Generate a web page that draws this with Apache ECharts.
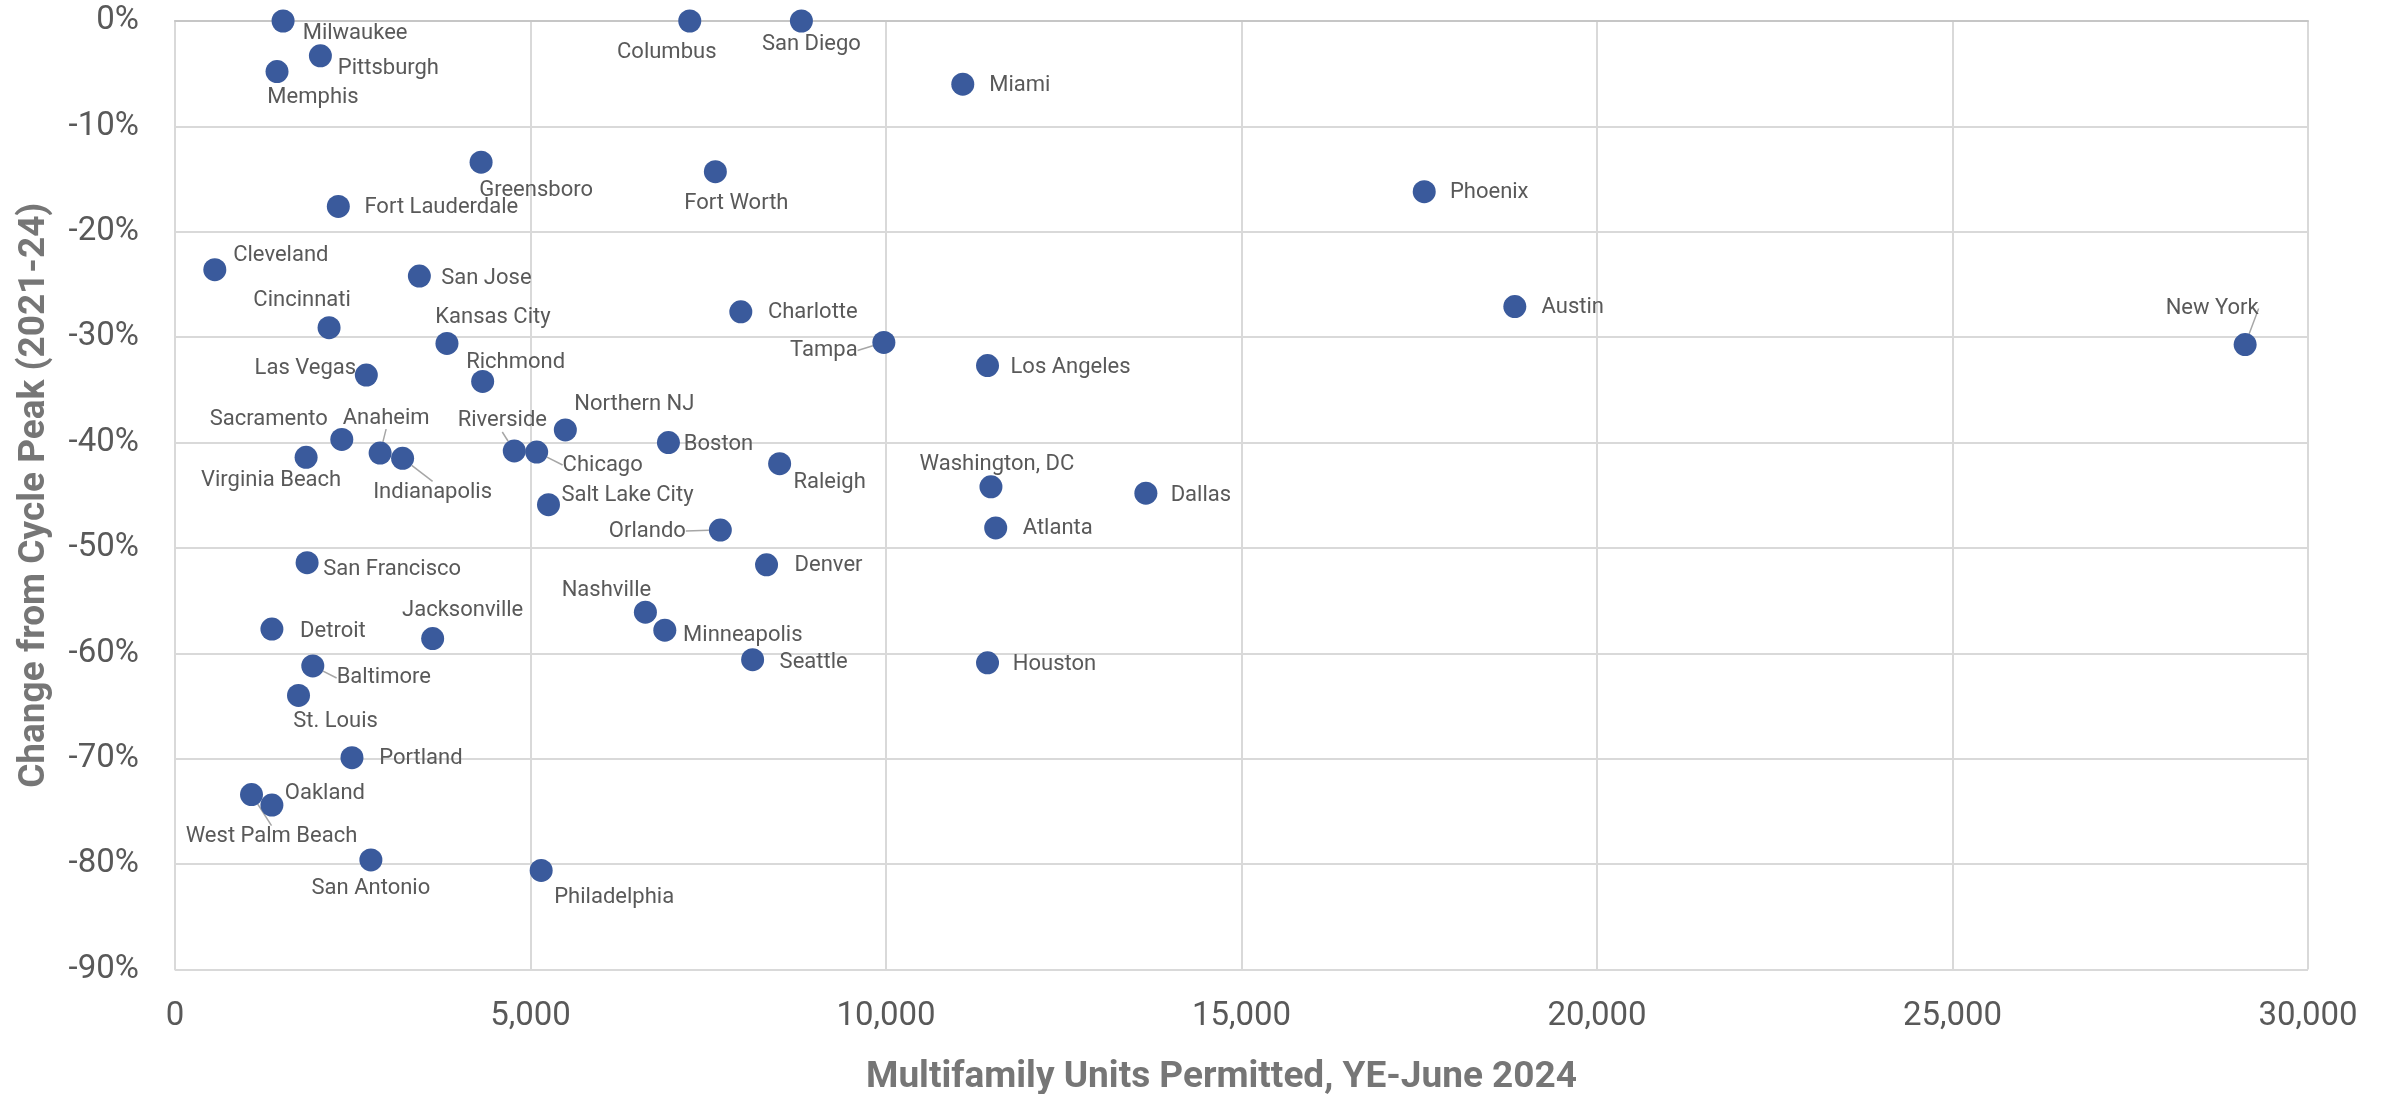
<!DOCTYPE html>
<html>
<head>
<meta charset="utf-8">
<script src="https://cdn.jsdelivr.net/npm/echarts@6/dist/echarts.min.js"></script>
<style>
  html, body { margin: 0; padding: 0; background: #fff; }
  #chart { width: 2389px; height: 1094px; }
</style>
</head>
<body>
<div id="chart"></div>
<script>
// Metro areas: multifamily permits (YE-June 2024) vs change from 2021-24 cycle peak
const cities = [
  'Milwaukee', 'Pittsburgh', 'Memphis', 'Columbus', 'San Diego', 'Miami',
  'Greensboro', 'Fort Worth', 'Fort Lauderdale', 'Phoenix', 'Cleveland', 'San Jose',
  'Charlotte', 'Austin', 'Cincinnati', 'Kansas City', 'Tampa', 'New York',
  'Las Vegas', 'Richmond', 'Los Angeles', 'Northern NJ', 'Sacramento', 'Anaheim',
  'Virginia Beach', 'Indianapolis', 'Riverside', 'Chicago', 'Boston', 'Raleigh',
  'Salt Lake City', 'Orlando', 'Washington, DC', 'Dallas', 'Atlanta', 'San Francisco',
  'Denver', 'Nashville', 'Detroit', 'Jacksonville', 'Minneapolis', 'Seattle',
  'Houston', 'Baltimore', 'St. Louis', 'Portland', 'West Palm Beach', 'Oakland',
  'San Antonio', 'Philadelphia'
];

const unitsPermitted = [
  1520, 2045, 1435, 7240, 8810, 11080,
  4305, 7600, 2297, 17570, 560, 3437,
  7958, 18844, 2167, 3825, 9970, 29116,
  2691, 4327, 11428, 5490, 2346, 2885,
  1844, 3201, 4772, 5087, 6940, 8504,
  5253, 7670, 11476, 13655, 11543, 1858,
  8320, 6616, 1363, 3624, 6889, 8124,
  11428, 1938, 1737, 2489, 1076, 1363,
  2755, 5150
];

const changeFromPeak = [
  0.0, -3.3, -4.8, 0.0, 0.0, -6.0,
  -13.4, -14.3, -17.6, -16.2, -23.6, -24.2,
  -27.6, -27.1, -29.1, -30.6, -30.5, -30.7,
  -33.6, -34.2, -32.7, -38.8, -39.7, -41.0,
  -41.4, -41.5, -40.8, -40.9, -40.0, -42.0,
  -45.9, -48.3, -44.2, -44.8, -48.1, -51.4,
  -51.6, -56.1, -57.7, -58.6, -57.8, -60.6,
  -60.9, -61.2, -64.0, -69.9, -73.4, -74.4,
  -79.6, -80.6
];

const xTicks = { min: 0, max: 30000, step: 5000 };
const yTicks = { min: -90, max: 0, step: 10 };

// Where each city's name sits relative to its dot (label centre, px)
const labelPlacement = {
  'Milwaukee': [72, 12], 'Pittsburgh': [68, 13], 'Memphis': [36, 26],
  'Columbus': [-23, 31], 'San Diego': [10, 23], 'Miami': [57, 1],
  'Greensboro': [55, 28], 'Fort Worth': [21, 32], 'Fort Lauderdale': [103, 1],
  'Phoenix': [65, 1], 'Cleveland': [66, -14], 'San Jose': [67, 2],
  'Charlotte': [72, 1], 'Austin': [58, 1], 'Cincinnati': [-27, -27],
  'Kansas City': [46, -26], 'Tampa': [-60, 8], 'New York': [-33, -36],
  'Las Vegas': [-61, -7], 'Richmond': [33, -19], 'Los Angeles': [83, 2],
  'Northern NJ': [69, -25], 'Sacramento': [-73, -20], 'Anaheim': [6, -35],
  'Virginia Beach': [-35, 23], 'Indianapolis': [30, 34], 'Riverside': [-12, -30],
  'Chicago': [66, 13], 'Boston': [50, 2], 'Raleigh': [50, 19],
  'Salt Lake City': [79, -9], 'Orlando': [-73, 1], 'Washington, DC': [6, -22],
  'Dallas': [55, 2], 'Atlanta': [62, 1], 'San Francisco': [85, 7],
  'Denver': [62, 1], 'Nashville': [-39, -22], 'Detroit': [61, 2],
  'Jacksonville': [30, -28], 'Minneapolis': [78, 5], 'Seattle': [61, 3],
  'Houston': [67, 2], 'Baltimore': [71, 12], 'St. Louis': [37, 26],
  'Portland': [69, 1], 'West Palm Beach': [20, 42], 'Oakland': [53, -12],
  'San Antonio': [0, 29], 'Philadelphia': [73, 27]
};

// Names pulled away from their dots get a thin leader line
const withLeader = new Set([
  'Anaheim', 'Indianapolis', 'Riverside', 'Chicago', 'Orlando',
  'Tampa', 'New York', 'Baltimore', 'West Palm Beach'
]);

const FONT = 'Roboto, "Open Sans", sans-serif';
const GRID = '#d9d9d9';
const TEXT = '#595959';

const points = cities.map((name, i) => {
  const item = {
    name: name,
    value: [unitsPermitted[i], changeFromPeak[i]],
    label: { offset: labelPlacement[name] || [60, 0] }
  };
  if (withLeader.has(name)) {
    item.labelLine = { show: true };
  }
  return item;
});

const chart = echarts.init(document.getElementById('chart'), null, { renderer: 'canvas' });

chart.setOption({
  animation: false,
  backgroundColor: '#ffffff',
  grid: {
    left: 175, right: 81, top: 21, bottom: 124.5,
    containLabel: false,
    outerBoundsMode: 'none'
  },
  xAxis: [{
    type: 'value',
    min: xTicks.min, max: xTicks.max, interval: xTicks.step,
    name: 'Multifamily Units Permitted, YE-June 2024',
    nameLocation: 'middle',
    nameGap: 90,
    nameTextStyle: {
      fontFamily: FONT, fontSize: 37, fontWeight: 'bold', color: '#767676',
      padding: [0, 40, 0, 0]
    },
    axisLine: { show: false },
    axisTick: { show: false },
    axisLabel: {
      margin: 31, fontFamily: FONT, fontSize: 33, color: TEXT,
      formatter: v => v.toLocaleString('en-US')
    },
    splitLine: { show: true, lineStyle: { color: GRID, width: 2 } }
  }, {
    type: 'value', position: 'top',
    min: xTicks.min, max: xTicks.max, interval: xTicks.step,
    axisLine: { show: true, lineStyle: { color: '#c6c6c6', width: 2 } },
    axisTick: { show: false }, axisLabel: { show: false }, splitLine: { show: false }
  }],
  yAxis: {
    type: 'value',
    min: yTicks.min, max: yTicks.max, interval: yTicks.step,
    name: 'Change from Cycle Peak (2021-24)',
    nameLocation: 'middle',
    nameGap: 122,
    nameTextStyle: {
      fontFamily: FONT, fontSize: 37, fontWeight: 'bold', color: '#767676'
    },
    axisLine: { show: true, lineStyle: { color: GRID, width: 2 } },
    axisTick: { show: false },
    axisLabel: {
      margin: 36, fontFamily: FONT, fontSize: 33, color: TEXT,
      formatter: v => v + '%'
    },
    splitLine: { show: true, lineStyle: { color: GRID, width: 2 } }
  },
  series: [{
    type: 'scatter',
    clip: false,
    symbol: 'circle',
    symbolSize: 23,
    itemStyle: { color: '#3a5a9c', opacity: 1 },
    label: {
      show: true,
      position: 'inside',
      align: 'center',
      verticalAlign: 'middle',
      formatter: p => p.name,
      fontFamily: FONT,
      fontSize: 22,
      color: TEXT
    },
    labelLine: {
      show: false,
      lineStyle: { color: '#a6a6a6', width: 1.5 }
    },
    emphasis: { disabled: true },
    data: points
  }]
});
</script>
</body>
</html>
